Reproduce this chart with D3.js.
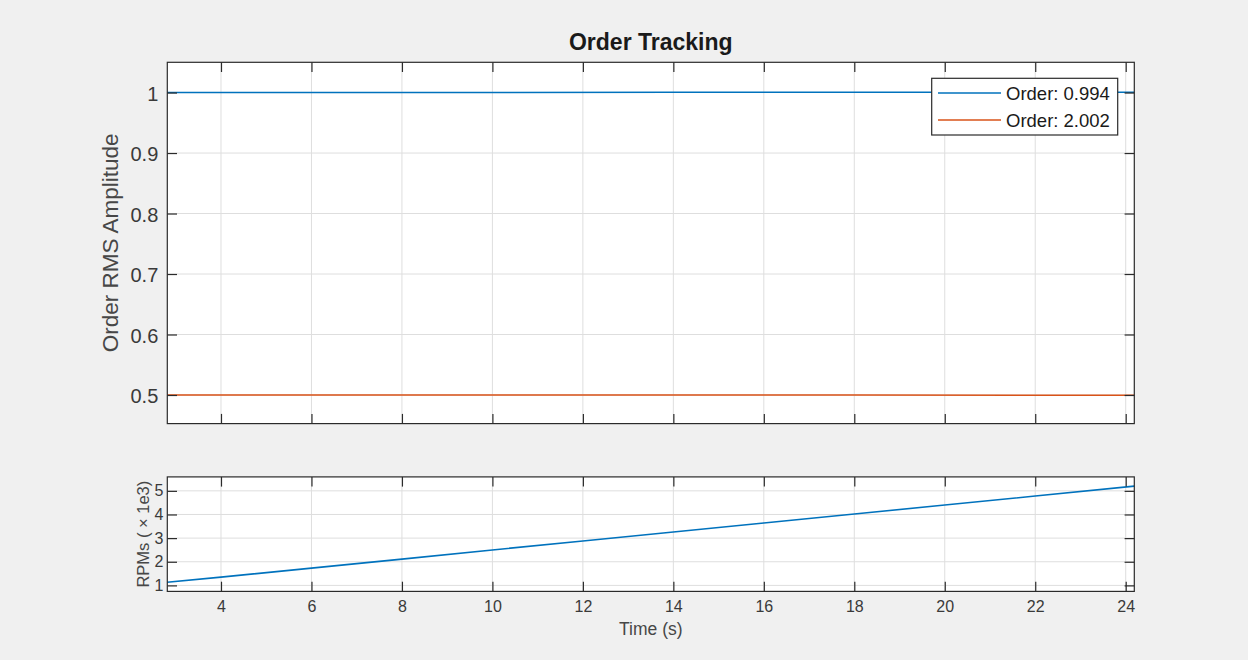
<!DOCTYPE html>
<html>
<head>
<meta charset="utf-8">
<script src="https://cdn.jsdelivr.net/npm/d3@7"></script>
<style>
  html, body { margin: 0; padding: 0; background: #f0f0f0; }
  svg { display: block; }
  text { font-family: "Liberation Sans", Arial, Helvetica, sans-serif; fill: #3a3a3a; }
</style>
</head>
<body>
<svg id="fig" width="1248" height="660"></svg>
<script>
// Order magnitude traces (time in seconds, RMS amplitude)
const orderTime = [2.81, 6, 10, 14, 18, 22, 24.19];
const order1Amp = [1.0, 1.0, 1.0, 1.0005, 1.0005, 1.0005, 1.0005];
const order2Amp = [0.5, 0.5, 0.5, 0.5, 0.5, 0.4995, 0.4995];
const orderLabels = ["Order: 0.994", "Order: 2.002"];

// Shaft speed profile (time in seconds, RPM in thousands)
const rpmTime = [2.81, 4, 6, 8, 10, 12, 14, 16, 18, 20, 22, 24.19];
const rpmValues = [1.13, 1.35, 1.73, 2.11, 2.50, 2.88, 3.26, 3.64, 4.02, 4.40, 4.78, 5.20];

// Tick values
const timeTicks = [4, 6, 8, 10, 12, 14, 16, 18, 20, 22, 24];
const ampTicks = [0.5, 0.6, 0.7, 0.8, 0.9, 1];
const rpmTicks = [1, 2, 3, 4, 5];

const colors = ["#0072BD", "#D95319"];
const axisColor = "#2b2b2b";
const gridColor = "#dedede";
const labelColor = "#474747";
const tickLen = 9.7;

const svg = d3.select("#fig");

// Layout of the two panels
const left = 167.3, right = 1134.3;
const top1 = 62.3, bottom1 = 423.6;
const top2 = 476.9, bottom2 = 591.4;

const x = d3.scaleLinear().domain([2.813, 24.19]).range([left, right]);
const y1 = d3.scaleLinear().domain([0.4527, 1.05]).range([bottom1, top1]);
const y2 = d3.scaleLinear().domain([0.746, 5.59]).range([bottom2, top2]);

function panel(yScale, yTicks, top, bottom, opts) {
  const g = svg.append("g");
  g.append("rect").attr("x", left).attr("y", top)
    .attr("width", right - left).attr("height", bottom - top)
    .attr("fill", "#ffffff");

  // grid
  const grid = g.append("g").attr("stroke", gridColor).attr("stroke-width", 1);
  timeTicks.forEach(t => grid.append("line")
    .attr("x1", x(t)).attr("x2", x(t)).attr("y1", top).attr("y2", bottom));
  yTicks.forEach(v => grid.append("line")
    .attr("x1", left).attr("x2", right).attr("y1", yScale(v)).attr("y2", yScale(v)));

  const plot = g.append("g");

  // axes with inward ticks on all four sides
  const fs = opts.tickFont;
  const bottomAxis = d3.axisBottom(x).tickValues(timeTicks)
    .tickSizeInner(-tickLen).tickSizeOuter(0).tickPadding(opts.xPad)
    .tickFormat(opts.xLabels ? d3.format("d") : () => "");
  const topAxis = d3.axisTop(x).tickValues(timeTicks)
    .tickSizeInner(-tickLen).tickSizeOuter(0).tickFormat(() => "");
  const leftAxis = d3.axisLeft(yScale).tickValues(yTicks)
    .tickSizeInner(-tickLen).tickSizeOuter(0).tickPadding(opts.yPad)
    .tickFormat(opts.yFormat);
  const rightAxis = d3.axisRight(yScale).tickValues(yTicks)
    .tickSizeInner(-tickLen).tickSizeOuter(0).tickFormat(() => "");

  const axes = [
    [bottomAxis, `translate(0,${bottom})`],
    [topAxis, `translate(0,${top})`],
    [leftAxis, `translate(${left},0)`],
    [rightAxis, `translate(${right},0)`]
  ];
  axes.forEach(([ax, tr]) => {
    const a = g.append("g").attr("transform", tr).call(ax);
    a.select(".domain").remove();
    a.selectAll(".tick line").attr("stroke", axisColor).attr("stroke-width", 1.2);
    a.selectAll(".tick text").attr("font-size", fs + "px")
      .attr("font-family", "Liberation Sans, Arial, sans-serif")
      .attr("fill", labelColor);
  });

  g.append("rect").attr("x", left).attr("y", top)
    .attr("width", right - left).attr("height", bottom - top)
    .attr("fill", "none").attr("stroke", axisColor).attr("stroke-width", 1.2);
  return { g, plot };
}

// Upper panel: order amplitudes
const p1 = panel(y1, ampTicks, top1, bottom1, {
  tickFont: 20, xPad: 0, yPad: 9, xLabels: false,
  yFormat: d => d === 1 ? "1" : d3.format(".1f")(d)
});
p1.g.selectAll("g.tick text").attr("dy", "0.38em");

const line1 = d3.line().x(d => x(d[0])).y(d => y1(d[1]));
[order1Amp, order2Amp].forEach((vals, i) => {
  p1.plot.append("path")
    .datum(orderTime.map((t, k) => [t, vals[k]]))
    .attr("d", line1).attr("fill", "none")
    .attr("stroke", colors[i]).attr("stroke-width", 1.6);
});

// Lower panel: RPM profile
const p2 = panel(y2, rpmTicks, top2, bottom2, {
  tickFont: 16, xPad: 9, yPad: 4, xLabels: true,
  yFormat: d3.format("d")
});

const line2 = d3.line().x(d => x(d[0])).y(d => y2(d[1]));
p2.plot.append("path")
  .datum(rpmTime.map((t, k) => [t, rpmValues[k]]))
  .attr("d", line2).attr("fill", "none")
  .attr("stroke", colors[0]).attr("stroke-width", 1.6);

// Title and axis labels
svg.append("text").attr("x", (left + right) / 2).attr("y", 50)
  .attr("text-anchor", "middle").attr("font-size", "23px")
  .attr("font-weight", "bold").style("fill", "#1a1a1a")
  .text("Order Tracking");

svg.append("text")
  .attr("transform", `translate(118,${(top1 + bottom1) / 2}) rotate(-90)`)
  .attr("text-anchor", "middle").attr("font-size", "22.5px")
  .style("fill", labelColor)
  .text("Order RMS Amplitude");

svg.append("text")
  .attr("transform", `translate(149,${(top2 + bottom2) / 2}) rotate(-90)`)
  .attr("text-anchor", "middle").attr("font-size", "16.5px")
  .style("fill", labelColor)
  .text("RPMs ( \u00d7 1e3)");

svg.append("text").attr("x", (left + right) / 2).attr("y", 635)
  .attr("text-anchor", "middle").attr("font-size", "17.5px")
  .style("fill", labelColor)
  .text("Time (s)");

// Legend
const lg = svg.append("g");
lg.append("rect").attr("x", 931.7).attr("y", 78.3)
  .attr("width", 186).attr("height", 56.7)
  .attr("fill", "#ffffff").attr("stroke", axisColor).attr("stroke-width", 1.2);
orderLabels.forEach((lab, i) => {
  const cy = 93 + i * 27;
  lg.append("line").attr("x1", 938).attr("x2", 1001).attr("y1", cy).attr("y2", cy)
    .attr("stroke", colors[i]).attr("stroke-width", 1.6);
  lg.append("text").attr("x", 1006).attr("y", cy + 6.6)
    .attr("font-size", "18.5px").style("fill", "#1a1a1a").text(lab);
});
</script>
</body>
</html>
